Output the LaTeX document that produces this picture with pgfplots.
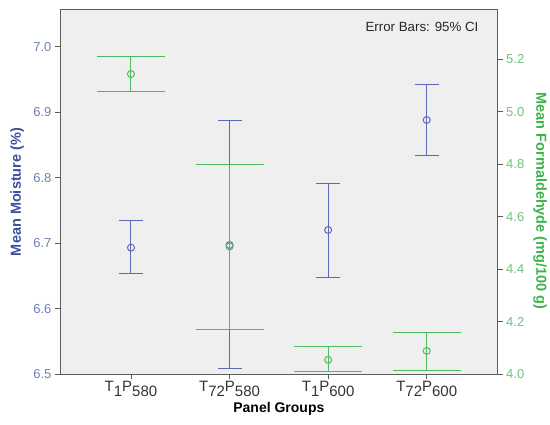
\documentclass[border=0pt]{standalone}
\usepackage{fontspec}
\setmainfont{Liberation Sans}
\usepackage{pgfplots}
\pgfplotsset{compat=1.18}
\usepackage{pgfplotstable}

\definecolor{moist}{HTML}{5A6BB5}
\definecolor{moistlab}{HTML}{3C4F9C}
\definecolor{moisttick}{HTML}{7080B8}
\definecolor{form}{HTML}{4DBB5F}
\definecolor{formlab}{HTML}{3CB44B}
\definecolor{formtick}{HTML}{72C07E}
\definecolor{panel}{HTML}{EFEFEF}
\definecolor{frame}{HTML}{5C5C5C}

% mean, CI plus, CI minus
\pgfplotstableread{
x y ep em
1 6.693 0.041 0.040
2 6.697 0.190 0.188
3 6.720 0.071 0.072
4 6.888 0.054 0.054
}\moisture
\pgfplotstableread{
x y ep em
1 5.143 0.068 0.068
2 4.486 0.313 0.315
3 4.054 0.050 0.045
4 4.088 0.072 0.073
}\formal

\newcommand{\sub}[1]{\raisebox{-0.36em}{#1}}

\begin{document}
\begin{tikzpicture}
\pgfplotsset{
  base/.style={
    scale only axis, width=437.7bp, height=364bp,
    xmin=0.28, xmax=4.72,
    /pgf/number format/assume math mode=true,
    tick align=outside, major tick length=5bp,
    tick style={color=frame, line width=0.8pt},
    axis line style={color=frame, line width=1pt},
    yticklabel style={/pgf/number format/fixed, /pgf/number format/fixed zerofill,
      /pgf/number format/precision=1},
  },
}
\begin{axis}[base, name=ax,
    axis background/.style={fill=panel},
    ymin=6.5, ymax=7.056,
    ytick={6.5,6.6,...,7.0},
    ytick pos=left, xtick pos=bottom,
    xtick={1,2,3,4},
    xticklabels={T\sub{1}P\sub{580}, T\sub{72}P\sub{580}, T\sub{1}P\sub{600}, T\sub{72}P\sub{600}},
    xticklabel style={font=\fontsize{15bp}{17bp}\selectfont, color=black!80, yshift=1.5bp},
    yticklabel style={font=\fontsize{13bp}{15bp}\selectfont, color=moisttick},
    xlabel={\textbf{Panel Groups}},
    xlabel style={font=\fontsize{14bp}{16bp}\selectfont, at={(axis description cs:0.5,-0.097)}, anchor=center},
    ylabel={\textbf{Mean Moisture (\%)}},
    ylabel style={font=\fontsize{14.5bp}{16bp}\selectfont, color=moistlab, at={(axis description cs:-0.098,0.5)}, anchor=center},
]
\addplot[color=moist, line width=1pt, only marks, mark=o, mark size=3.5bp,
    error bars/.cd, y dir=both, y explicit,
    error bar style={color=moist, line width=1pt},
    error mark=|, error mark options={color=moist, line width=1pt, mark size=12bp}]
  table[x=x, y=y, y error plus=ep, y error minus=em] {\moisture};
\node[anchor=east, font=\fontsize{13.3bp}{15bp}\selectfont, color=black!85]
  at (rel axis cs:0.964,0.953) {Error Bars: 95\% CI};
\end{axis}
\begin{axis}[base,
    ymin=4.0, ymax=5.387,
    ytick={4.0,4.2,...,5.2},
    hide x axis, axis y line*=right,
    yticklabel style={font=\fontsize{13bp}{15bp}\selectfont, color=formtick},
    ylabel={\textbf{Mean Formaldehyde (mg/100 g)}},
    ylabel style={font=\fontsize{14.5bp}{16bp}\selectfont, color=formlab, rotate=180, at={(axis description cs:1.0966,0.475)}, anchor=center},
]
\addplot[color=form, line width=1pt, only marks, mark=o, mark size=3.5bp,
    error bars/.cd, y dir=both, y explicit,
    error bar style={color=form, line width=1pt},
    error mark=|, error mark options={color=form, line width=1pt, mark size=34bp}]
  table[x=x, y=y, y error plus=ep, y error minus=em] {\formal};
\end{axis}
\pgfresetboundingbox
\path[use as bounding box] ([shift={(-60bp,-51bp)}]ax.south west) rectangle ([shift={(52.3bp,10bp)}]ax.north east);
\end{tikzpicture}
\end{document}
